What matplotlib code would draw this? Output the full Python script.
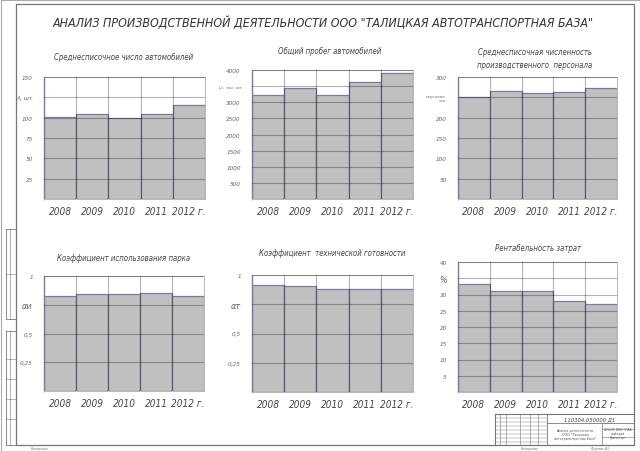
import numpy as np
import matplotlib
matplotlib.use('Agg')
import matplotlib.pyplot as plt

# the drawing uses a narrow drafting font; condensed oblique DejaVu is the closest
plt.rcParams['font.family'] = ['DejaVu Sans']
plt.rcParams['font.style'] = 'italic'
plt.rcParams['font.stretch'] = 'condensed'

years = ['2008', '2009', '2010', '2011', '2012 г.']

cars = [101, 105, 100, 104, 116]
mileage = [3220, 3430, 3220, 3620, 3920]
staff = [250, 265, 261, 263, 273]
k_use = [0.83, 0.843, 0.843, 0.855, 0.83]
k_tech = [0.917, 0.903, 0.883, 0.883, 0.883]
profit = [33.2, 31.2, 31.2, 28.1, 27.2]

W, H = 640, 452
fig = plt.figure(figsize=(6.4, 4.52), dpi=100)
fig.patch.set_facecolor('white')


def box(x0, y0, x1, y1):
    return [x0 / W, 1 - y1 / H, (x1 - x0) / W, (y1 - y0) / H]


# drawing sheet frame
frame = fig.add_axes([0, 0, 1, 1])
frame.set_xlim(0, W)
frame.set_ylim(H, 0)
frame.axis('off')
lc = '#777777'
frame.plot([0.5, 639.5, 639.5, 0.5, 0.5], [0.5, 0.5, 451.5, 451.5, 0.5], color='#aaaaaa', lw=0.8)
frame.plot([16, 634, 634, 16, 16], [5, 5, 446, 446, 5], color=lc, lw=0.9)
# left stamps
for y0, y1, splits in [(230, 320, [275]), (332, 446, [360, 380, 400, 420])]:
    frame.plot([6, 16, 16, 6, 6], [y0, y0, y1, y1, y0], color=lc, lw=0.6)
    frame.plot([10, 10], [y0, y1], color=lc, lw=0.4)
    for s in splits:
        frame.plot([6, 16], [s, s], color=lc, lw=0.4)
# title block
frame.plot([495, 634], [415, 415], color=lc, lw=0.8)
frame.plot([495, 495], [415, 446], color=lc, lw=0.8)
frame.plot([547, 634], [424, 424], color=lc, lw=0.6)
frame.plot([547, 547], [415, 446], color=lc, lw=0.6)
frame.plot([602, 602], [424, 446], color=lc, lw=0.5)
frame.plot([602, 634], [430, 430], color=lc, lw=0.4)
frame.plot([602, 634], [438, 438], color=lc, lw=0.4)
for x in [500, 506, 520, 530, 538]:
    frame.plot([x, x], [415, 446], color=lc, lw=0.4)
for y in [419, 423, 427, 431, 435, 439, 443]:
    frame.plot([495, 547], [y, y], color=lc, lw=0.3)
frame.text(590, 420, '110304.050000 Д1', fontsize=4.2, color='#444444', ha='center', va='center')
frame.text(575, 435, 'Анализ деятельности\nООО "Талицкая\nавтотранспортная база"',
           fontsize=2.6, color='#555555', ha='center', va='center', linespacing=1.1)
frame.text(618, 434, 'ФГБОУ ВПО ЧГАА\nкафедра\nТранспорт', fontsize=2.4, color='#555555',
           ha='center', va='center', linespacing=1.1)
frame.text(40, 449, 'Копировал', fontsize=2.5, color='#777777', ha='center', va='center')
frame.text(530, 449, 'Копировал', fontsize=2.5, color='#777777', ha='center', va='center')
frame.text(600, 449, 'Формат A3', fontsize=2.5, color='#777777', ha='center', va='center')

frame.text(323, 23, 'АНАЛИЗ ПРОИЗВОДСТВЕННОЙ ДЕЯТЕЛЬНОСТИ ООО "ТАЛИЦКАЯ АВТОТРАНСПОРТНАЯ БАЗА"',
           fontsize=8.9, color='#333333', ha='center', va='center')

charts = [
    (cars, box(44, 78, 205, 200), 150, [25, 50, 75, 100, 125, 150],
     ['25', '50', '75', '100', 'А, шт', '150'], 'Среднесписочное число автомобилей', (124, 57)),
    (mileage, box(252, 71, 413, 200), 4000, list(range(500, 4001, 500)),
     ['500', '1000', '1500', '2000', '2500', '3000', 'Lг, тыс. км', '4000'],
     'Общий пробег автомобилей', (330, 52)),
    (staff, box(458, 78, 617, 200), 300, [50, 100, 150, 200, 250, 300],
     ['50', '100', '150', '200', 'персонал,\nчел.', '300'],
     'Среднесписочная численность\nпроизводственного  персонала', (535, 59)),
    (k_use, box(44, 277, 204, 392), 1, [0.25, 0.5, 0.75, 1],
     ['0,25', '0,5', 'αи', '1'], 'Коэффициент использования парка', (124, 259)),
    (k_tech, box(252, 276, 413, 393), 1, [0.25, 0.5, 0.75, 1],
     ['0,25', '0,5', 'αт', '1'], 'Коэффициент  технической готовности', (332, 254)),
    (profit, box(458, 263, 617, 393), 40, list(range(5, 41, 5)),
     ['5', '10', '15', '20', '25', '30', '%', '40'], 'Рентабельность затрат', (538, 249)),
]

for vals, pos, top, ticks, labels, title, tpos in charts:
    ax = fig.add_axes(pos)
    x = np.arange(len(vals))
    ax.bar(x, vals, width=1.0, align='edge', color='#c0c0c0', edgecolor='#7a7aa8',
           linewidth=0.9, zorder=2)
    ax.set_xlim(0, len(vals))
    ax.set_ylim(0, top)
    for t in ticks:
        ax.axhline(t, color='black', alpha=0.3, lw=0.8, zorder=3)
    for xv in x[1:]:
        ax.axvline(xv, color='black', alpha=0.3, lw=0.8, zorder=3)
    ax.set_yticks(ticks)
    ax.set_yticklabels(labels)
    ax.set_xticks(x + 0.5)
    ax.set_xticklabels(years)
    ax.tick_params(axis='y', length=0, pad=8, labelsize=4.6, labelcolor='#666666')
    ax.tick_params(axis='x', length=0, pad=5, labelsize=7.2, labelcolor='#444444')
    for lab in ax.get_yticklabels():
        txt = lab.get_text()
        if '\n' in txt or len(txt) > 5:
            lab.set_fontsize(3.2)
        elif txt in ('%', 'αи', 'αт'):
            lab.set_fontsize(6.5)
    for s in ['top', 'right', 'bottom']:
        ax.spines[s].set_color('#b8b8b8')
        ax.spines[s].set_linewidth(0.7)
    ax.spines['left'].set_color('#7a7aa8')
    ax.spines['left'].set_linewidth(1.0)
    frame.text(tpos[0], tpos[1], title, fontsize=5.6, color='#444444', ha='center',
               va='center', linespacing=1.45)

fig.savefig('out.png', dpi=100, facecolor='white')
